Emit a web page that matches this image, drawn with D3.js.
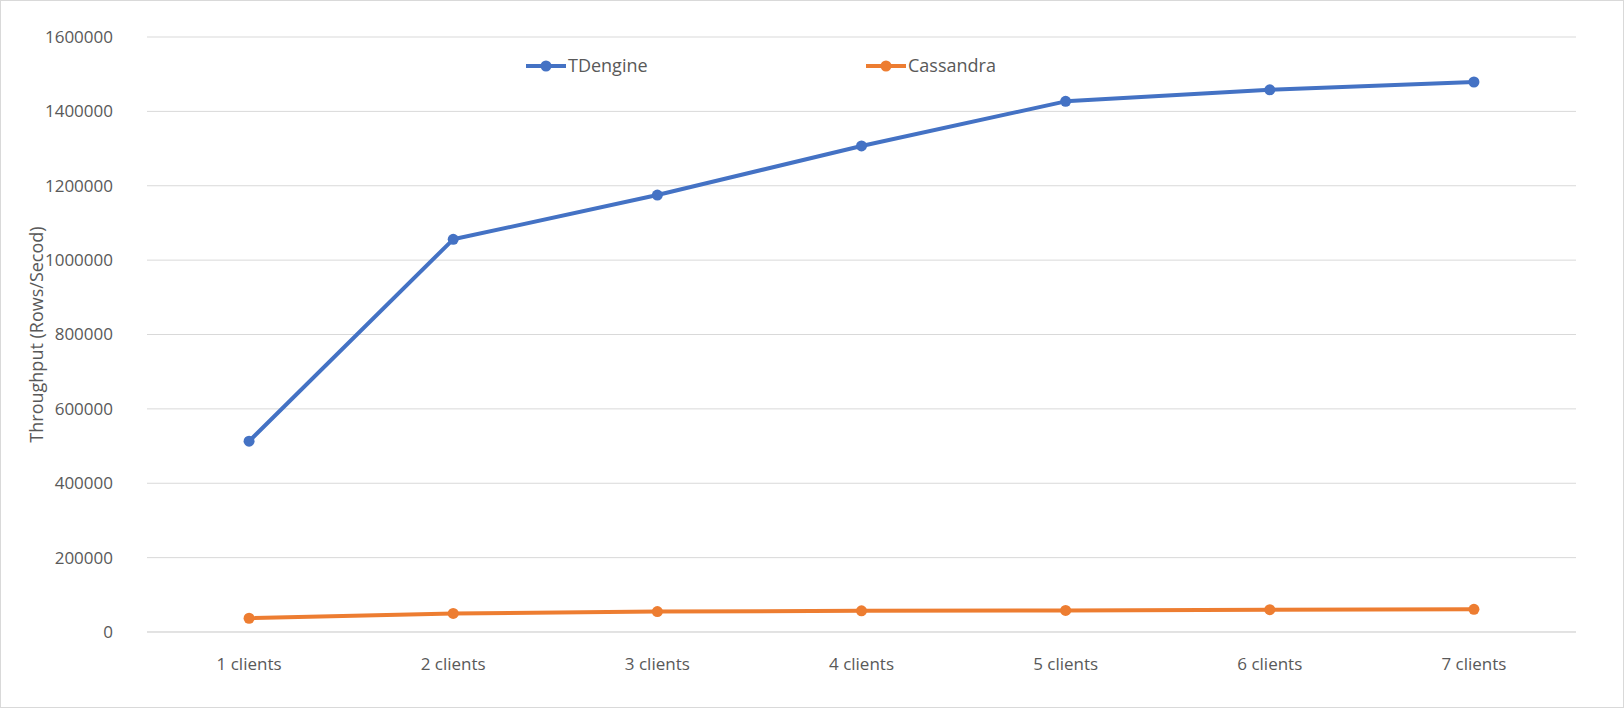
<!DOCTYPE html>
<html lang="en">
<head>
<meta charset="UTF-8">
<title>Throughput</title>
<script src="https://d3js.org/d3.v7.min.js"></script>
<style>
  body { margin: 0; background: #fff; font-family: "Open Sans", "Liberation Sans", sans-serif; }
  .grid line { stroke: #d9d9d9; }
  .axis text { fill: #595959; font-size: 17px; }
</style>
</head>
<body>
<div id="chart"></div>
<script>
// chart data
const categories = ["1 clients", "2 clients", "3 clients", "4 clients", "5 clients", "6 clients", "7 clients"];
const tdengine = [513000, 1056000, 1175000, 1307000, 1427000, 1458000, 1479000];
const cassandra = [37000, 50000, 55000, 57000, 58000, 60000, 61000];
const yTicks = [0, 200000, 400000, 600000, 800000, 1000000, 1200000, 1400000, 1600000];

const series = [
  { name: "TDengine", values: tdengine, color: "#4472c4" },
  { name: "Cassandra", values: cassandra, color: "#ed7d31" }
];

const W = 1624, H = 708;
const margin = { top: 37, right: 48, bottom: 76, left: 147 };

const svg = d3.select("#chart").append("svg")
  .attr("width", W).attr("height", H);

svg.append("rect")
  .attr("x", 0.5).attr("y", 0.5)
  .attr("width", W - 1).attr("height", H - 1)
  .attr("fill", "#fff").attr("stroke", "#d9d9d9");

const x = d3.scaleBand().domain(categories)
  .range([margin.left, W - margin.right]);
const y = d3.scaleLinear().domain([0, 1600000])
  .range([H - margin.bottom, margin.top]);

// gridlines
svg.append("g").attr("class", "grid")
  .selectAll("line").data(yTicks).join("line")
  .attr("x1", margin.left).attr("x2", W - margin.right)
  .attr("y1", d => y(d)).attr("y2", d => y(d));

// y axis labels
svg.append("g").attr("class", "axis")
  .selectAll("text").data(yTicks).join("text")
  .attr("x", margin.left - 34).attr("y", d => y(d))
  .attr("dy", "0.35em").attr("text-anchor", "end")
  .text(d => d);

// x axis line + labels
svg.append("line")
  .attr("x1", margin.left).attr("x2", W - margin.right)
  .attr("y1", y(0)).attr("y2", y(0))
  .attr("stroke", "#d9d9d9");

svg.append("g").attr("class", "axis")
  .selectAll("text").data(categories).join("text")
  .attr("x", d => x(d) + x.bandwidth() / 2)
  .attr("y", y(0) + 38)
  .attr("text-anchor", "middle")
  .text(d => d);

// y title
svg.append("text")
  .attr("transform", `translate(43,${(margin.top + H - margin.bottom) / 2}) rotate(-90)`)
  .attr("text-anchor", "middle")
  .attr("fill", "#595959").attr("font-size", 18)
  .text("Throughput (Rows/Secod)");

const line = d3.line()
  .x((d, i) => x(categories[i]) + x.bandwidth() / 2)
  .y(d => y(d));

series.forEach(s => {
  svg.append("path")
    .attr("d", line(s.values))
    .attr("fill", "none")
    .attr("stroke", s.color)
    .attr("stroke-width", 4)
    .attr("stroke-linejoin", "round");
  svg.append("g").selectAll("circle").data(s.values).join("circle")
    .attr("cx", (d, i) => x(categories[i]) + x.bandwidth() / 2)
    .attr("cy", d => y(d))
    .attr("r", 5.5)
    .attr("fill", s.color);
});

// legend
const legendX = [526, 866];
series.forEach((s, i) => {
  const g = svg.append("g").attr("transform", `translate(${legendX[i]},66)`);
  g.append("line").attr("x1", 0).attr("x2", 40)
    .attr("stroke", s.color).attr("stroke-width", 4);
  g.append("circle").attr("cx", 20).attr("r", 5.5).attr("fill", s.color);
  g.append("text").attr("x", 42).attr("dy", "0.35em")
    .attr("fill", "#595959").attr("font-size", 18)
    .text(s.name);
});
</script>
</body>
</html>
